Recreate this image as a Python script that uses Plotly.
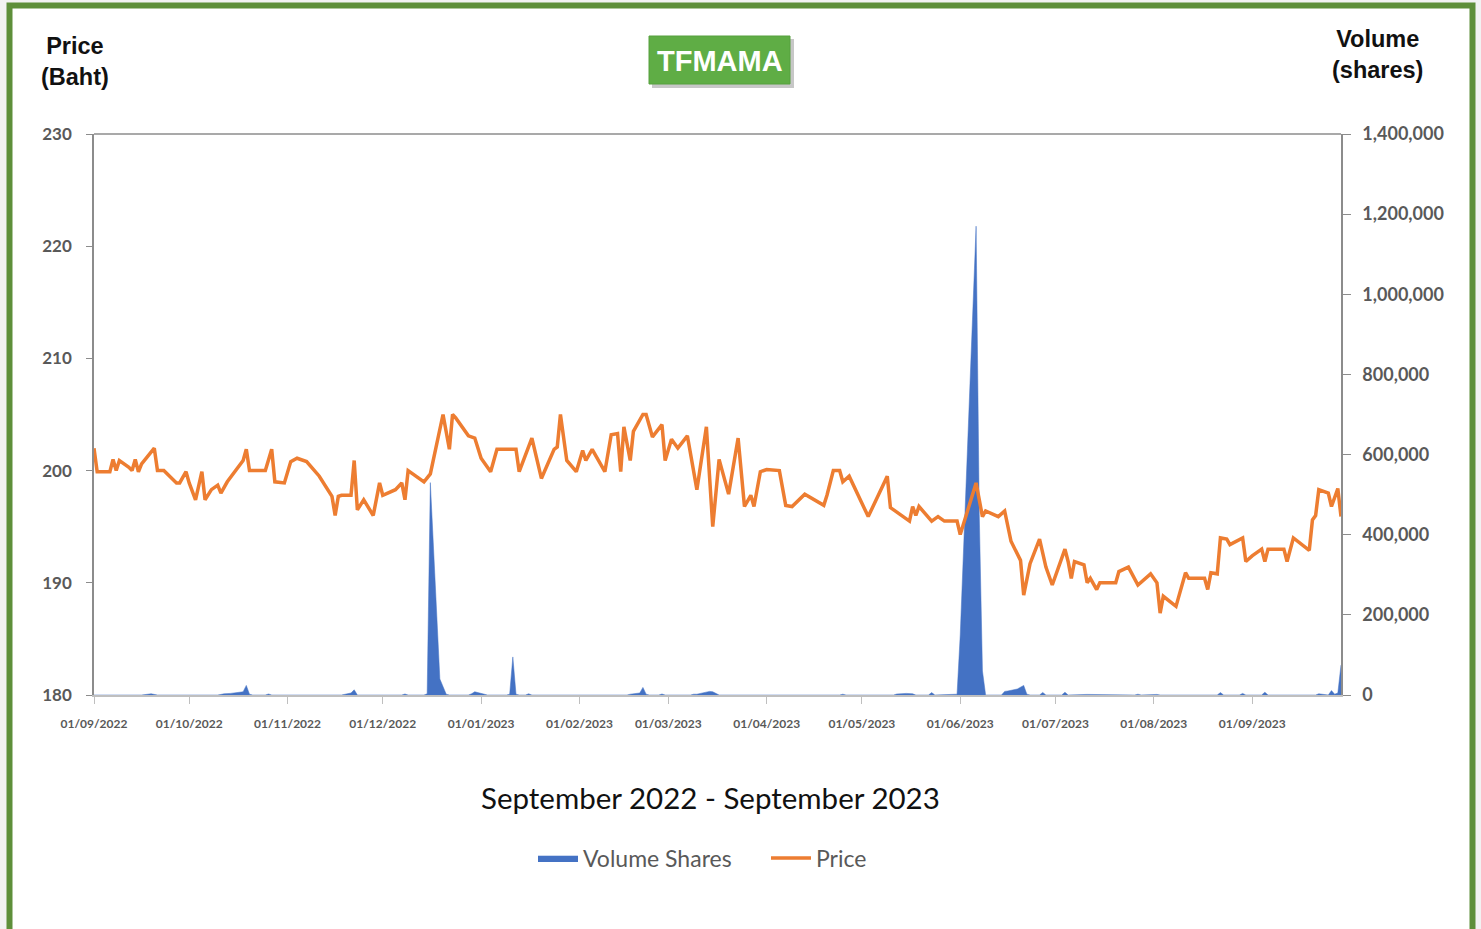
import plotly.graph_objects as go

# ---------------- data ----------------
price_dates = [
    "2022-09-01", "2022-09-02", "2022-09-06", "2022-09-07", "2022-09-08", "2022-09-09",
    "2022-09-12", "2022-09-13", "2022-09-14", "2022-09-15", "2022-09-16", "2022-09-20",
    "2022-09-21", "2022-09-23", "2022-09-27", "2022-09-28", "2022-09-30", "2022-10-01",
    "2022-10-03", "2022-10-05", "2022-10-06", "2022-10-08", "2022-10-10", "2022-10-11",
    "2022-10-13", "2022-10-18", "2022-10-19", "2022-10-20", "2022-10-25", "2022-10-27",
    "2022-10-28", "2022-10-31", "2022-11-02", "2022-11-04", "2022-11-07", "2022-11-11",
    "2022-11-15", "2022-11-16", "2022-11-17", "2022-11-18", "2022-11-21", "2022-11-22",
    "2022-11-23", "2022-11-25", "2022-11-28", "2022-11-30", "2022-12-01", "2022-12-05",
    "2022-12-07", "2022-12-08", "2022-12-09", "2022-12-14", "2022-12-16", "2022-12-20",
    "2022-12-22", "2022-12-23", "2022-12-24", "2022-12-28", "2022-12-30", "2023-01-01",
    "2023-01-04", "2023-01-06", "2023-01-12", "2023-01-13", "2023-01-17", "2023-01-20",
    "2023-01-24", "2023-01-25", "2023-01-26", "2023-01-28", "2023-01-31", "2023-02-01",
    "2023-02-02", "2023-02-03", "2023-02-05", "2023-02-09", "2023-02-11", "2023-02-13",
    "2023-02-14", "2023-02-15", "2023-02-17", "2023-02-18", "2023-02-21", "2023-02-22",
    "2023-02-24", "2023-02-27", "2023-02-28", "2023-03-02", "2023-03-04", "2023-03-07",
    "2023-03-09", "2023-03-10", "2023-03-13", "2023-03-15", "2023-03-17", "2023-03-20",
    "2023-03-23", "2023-03-25", "2023-03-27", "2023-03-28", "2023-03-30", "2023-04-01",
    "2023-04-05", "2023-04-07", "2023-04-09", "2023-04-13", "2023-04-19", "2023-04-20",
    "2023-04-22", "2023-04-24", "2023-04-25", "2023-04-27", "2023-05-03", "2023-05-09",
    "2023-05-10", "2023-05-16", "2023-05-17", "2023-05-18", "2023-05-19", "2023-05-23",
    "2023-05-25", "2023-05-27", "2023-05-31", "2023-06-01", "2023-06-06", "2023-06-08",
    "2023-06-09", "2023-06-13", "2023-06-15", "2023-06-17", "2023-06-20", "2023-06-21",
    "2023-06-23", "2023-06-26", "2023-06-28", "2023-06-30", "2023-07-04", "2023-07-05",
    "2023-07-06", "2023-07-07", "2023-07-10", "2023-07-11", "2023-07-12", "2023-07-14",
    "2023-07-15", "2023-07-20", "2023-07-21", "2023-07-24", "2023-07-27", "2023-07-31",
    "2023-08-02", "2023-08-03", "2023-08-04", "2023-08-08", "2023-08-11", "2023-08-12",
    "2023-08-17", "2023-08-18", "2023-08-19", "2023-08-21", "2023-08-22", "2023-08-24",
    "2023-08-25", "2023-08-29", "2023-08-30", "2023-09-01", "2023-09-04", "2023-09-05",
    "2023-09-06", "2023-09-11", "2023-09-12", "2023-09-14", "2023-09-19", "2023-09-20",
    "2023-09-21", "2023-09-22", "2023-09-25", "2023-09-26", "2023-09-28", "2023-09-29",
]
price_values = [
    202.0, 199.9, 199.9, 201.0, 200.0, 200.9,
    200.3, 200.0, 201.0, 199.9, 200.6, 202.0,
    200.0, 200.0, 198.9, 198.9, 199.9, 198.9,
    197.4, 199.9, 197.4, 198.3, 198.7, 198.0,
    199.0, 200.9, 201.9, 200.0, 200.0, 201.9,
    199.0, 198.9, 200.8, 201.1, 200.8, 199.5,
    197.7, 196.0, 197.7, 197.8, 197.8, 200.9,
    196.5, 197.4, 196.0, 198.9, 197.8, 198.3,
    198.9, 197.4, 200.0, 199.0, 199.7, 205.0,
    201.9, 205.0, 204.7, 203.1, 202.9, 201.1,
    199.9, 201.9, 201.9, 199.9, 202.9, 199.3,
    201.9, 202.1, 205.0, 200.9, 199.9, 200.8,
    201.8, 200.9, 201.9, 199.9, 203.2, 203.3,
    199.9, 203.9, 200.9, 203.5, 205.0, 205.0,
    203.0, 204.1, 200.9, 202.8, 202.0, 203.1,
    199.6, 198.3, 203.9, 195.0, 201.0, 197.9,
    202.9, 196.8, 197.8, 196.8, 199.9, 200.1,
    200.0, 196.9, 196.8, 197.9, 196.9, 197.8,
    200.0, 200.0, 199.0, 199.5, 195.9, 199.5,
    196.7, 195.5, 196.8, 196.0, 196.8, 195.5,
    195.9, 195.5, 195.5, 194.3, 198.9, 195.9,
    196.4, 195.9, 196.4, 193.7, 192.0, 188.9,
    191.7, 193.9, 191.4, 189.8, 193.0, 191.9,
    190.4, 191.9, 191.6, 190.0, 190.4, 189.4,
    190.0, 190.0, 191.0, 191.4, 189.8, 190.8,
    190.0, 187.3, 188.8, 187.9, 190.9, 190.4,
    190.4, 189.4, 190.9, 190.8, 194.0, 193.9,
    193.4, 194.0, 191.9, 192.4, 193.0, 191.9,
    193.0, 193.0, 191.9, 194.0, 192.9, 195.6,
    196.0, 198.3, 198.0, 196.8, 198.4, 195.9,
]

volume_dates = [
    "2022-09-01", "2022-09-16", "2022-09-19", "2022-09-21", "2022-10-10", "2022-10-12",
    "2022-10-14", "2022-10-17", "2022-10-18", "2022-10-19", "2022-10-20", "2022-10-21",
    "2022-10-25", "2022-10-26", "2022-10-27", "2022-11-18", "2022-11-21", "2022-11-22",
    "2022-11-23", "2022-12-07", "2022-12-08", "2022-12-09", "2022-12-14", "2022-12-15",
    "2022-12-16", "2022-12-19", "2022-12-20", "2022-12-21", "2022-12-22", "2022-12-28",
    "2022-12-29", "2022-12-30", "2023-01-03", "2023-01-09", "2023-01-10", "2023-01-11",
    "2023-01-12", "2023-01-13", "2023-01-15", "2023-01-16", "2023-01-17", "2023-02-16",
    "2023-02-17", "2023-02-20", "2023-02-21", "2023-02-22", "2023-02-23", "2023-02-26",
    "2023-02-27", "2023-02-28", "2023-03-08", "2023-03-09", "2023-03-10", "2023-03-13",
    "2023-03-14", "2023-03-15", "2023-03-16", "2023-03-17", "2023-04-24", "2023-04-25",
    "2023-04-26", "2023-05-11", "2023-05-12", "2023-05-15", "2023-05-17", "2023-05-18",
    "2023-05-22", "2023-05-23", "2023-05-24", "2023-05-31", "2023-06-01", "2023-06-06",
    "2023-06-07", "2023-06-08", "2023-06-09", "2023-06-14", "2023-06-15", "2023-06-16",
    "2023-06-19", "2023-06-20", "2023-06-21", "2023-06-22", "2023-06-23", "2023-06-26",
    "2023-06-27", "2023-06-28", "2023-07-03", "2023-07-04", "2023-07-05", "2023-07-11",
    "2023-07-14", "2023-07-17", "2023-07-26", "2023-07-27", "2023-07-28", "2023-08-02",
    "2023-08-03", "2023-08-21", "2023-08-22", "2023-08-23", "2023-08-28", "2023-08-29",
    "2023-08-30", "2023-09-04", "2023-09-05", "2023-09-06", "2023-09-11", "2023-09-12",
    "2023-09-21", "2023-09-22", "2023-09-25", "2023-09-26", "2023-09-27", "2023-09-28",
    "2023-09-29",
]
volume_values = [
    0, 0, 3000, 0, 0, 3000,
    4000, 6000, 8000, 24000, 2000, 0,
    0, 2500, 0, 0, 5000, 13000,
    0, 0, 2500, 0, 0, 3000,
    530000, 40000, 20000, 2000, 0, 0,
    3000, 8000, 0, 0, 2000, 95000,
    2000, 0, 0, 3000, 0, 0,
    2000, 5000, 19000, 2000, 0, 0,
    2500, 0, 0, 2000, 2000, 7000,
    9000, 8000, 3000, 0, 0, 2000,
    0, 0, 2500, 4000, 3000, 0,
    0, 6000, 0, 2000, 150000, 1170000,
    450000, 60000, 0, 0, 9000, 10000,
    15000, 20000, 24000, 2000, 0, 0,
    6500, 0, 0, 7000, 0, 1500,
    1500, 0, 0, 2000, 0, 1500,
    0, 0, 6000, 0, 0, 4000,
    0, 0, 7000, 0, 1500, 0,
    0, 3000, 0, 11000, 2000, 5000,
    75000,
]

price_ticks = [180, 190, 200, 210, 220, 230]
volume_ticks = [0, 200000, 400000, 600000, 800000, 1000000, 1200000, 1400000]

# ---------------- layout helpers ----------------
W, H = 1481, 929
PL, PR, PT, PB = 94, 1341, 134, 695


def px(x):
    return (x - PL) / (PR - PL)


def py(y):
    return (PB - y) / (PB - PT)


GRAY_TXT = "#595959"
FONT = "Lato, 'Open Sans', sans-serif"
ARIAL = "'Liberation Sans', Arial, sans-serif"

fig = go.Figure()

fig.add_trace(go.Scatter(
    x=volume_dates, y=volume_values, name="Volume Shares",
    mode="lines", fill="tozeroy", fillcolor="#4472C4",
    line=dict(color="#4472C4", width=0.5), yaxis="y",
))
fig.add_trace(go.Scatter(
    x=price_dates, y=price_values, name="Price",
    mode="lines", line=dict(color="#ED7D31", width=3.5), yaxis="y2",
))

shapes = [
    dict(type="rect", xref="paper", yref="paper", layer="below",
         x0=px(9.5), x1=px(1472.5), y0=py(945), y1=py(5.5),
         fillcolor="white", line=dict(color="#5E8F3A", width=6)),
    dict(type="line", xref="paper", yref="paper", x0=0, x1=1, y0=1, y1=1,
         line=dict(color="#8C8C8C", width=1.5)),
    dict(type="rect", xref="paper", yref="paper",
         x0=px(652), x1=px(794), y0=py(88), y1=py(39),
         fillcolor="rgba(0,0,0,0.22)", line=dict(width=0)),
    dict(type="rect", xref="paper", yref="paper",
         x0=px(649), x1=px(790), y0=py(84), y1=py(36),
         fillcolor="#5FAD45", line=dict(color="#57A03F", width=1)),
]

annotations = [
    dict(text="<b>TFMAMA</b>", x=px(719.5), y=py(61), xref="paper", yref="paper",
         xanchor="center", yanchor="middle", showarrow=False,
         font=dict(family=ARIAL, size=29, color="white")),
    dict(text="<b>Price</b><br><b>(Baht)</b>", x=px(75), y=py(62), xref="paper", yref="paper",
         xanchor="center", yanchor="middle", showarrow=False, align="center",
         font=dict(family=ARIAL, size=23.5, color="#111111")),
    dict(text="<b>Volume</b><br><b>(shares)</b>", x=px(1377), y=py(55), xref="paper", yref="paper",
         xanchor="center", yanchor="middle", showarrow=False, align="center",
         font=dict(family=ARIAL, size=23.5, color="#111111")),
    dict(text="September 2022 - September 2023", x=px(710), y=py(797), xref="paper", yref="paper",
         xanchor="center", yanchor="middle", showarrow=False,
         font=dict(family=FONT, size=29.5, color="#111111")),
]

fig.update_layout(
    width=W, height=H,
    margin=dict(l=PL, r=W - PR, t=PT, b=H - PB),
    paper_bgcolor="#F2F2F2",
    plot_bgcolor="rgba(0,0,0,0)",
    showlegend=True,
    legend=dict(orientation="h", x=px(533), xanchor="left", y=py(858), yanchor="middle",
                font=dict(family=FONT, size=23, color=GRAY_TXT),
                bgcolor="rgba(0,0,0,0)", itemwidth=40, entrywidth=178, tracegroupgap=0),
    xaxis=dict(
        type="date", range=["2022-09-01", "2023-09-29"],
        tick0="2022-09-01", dtick="M1", tickformat="%d/%m/%Y",
        showgrid=False, zeroline=False,
        showline=True, linecolor="#BFBFBF", linewidth=1.5,
        ticks="outside", ticklen=7, tickcolor="#BFBFBF",
        ticklabelstandoff=10,
        tickfont=dict(family=FONT, size=12, color=GRAY_TXT, weight="bold"),
    ),
    yaxis=dict(
        side="right", range=[0, 1400000], tickvals=volume_ticks, tickformat=",d",
        showgrid=False, zeroline=False,
        showline=True, linecolor="#8C8C8C", linewidth=1.5,
        ticks="outside", ticklen=8, tickcolor="#8C8C8C",
        ticklabelstandoff=8,
        tickfont=dict(family=FONT, size=18, color=GRAY_TXT, weight="bold"),
    ),
    yaxis2=dict(
        overlaying="y", side="left", range=[180, 230], tickvals=price_ticks,
        showgrid=False, zeroline=False,
        showline=True, linecolor="#8C8C8C", linewidth=1.5,
        ticks="outside", ticklen=6, tickcolor="#8C8C8C",
        ticklabelstandoff=11,
        tickfont=dict(family=FONT, size=17, color=GRAY_TXT, weight="bold"),
    ),
    shapes=shapes,
    annotations=annotations,
)

fig.write_html(
    "out.html",
    config={"displayModeBar": False},
    post_script="document.body.style.margin='0px';document.body.style.overflow='hidden';",
)
